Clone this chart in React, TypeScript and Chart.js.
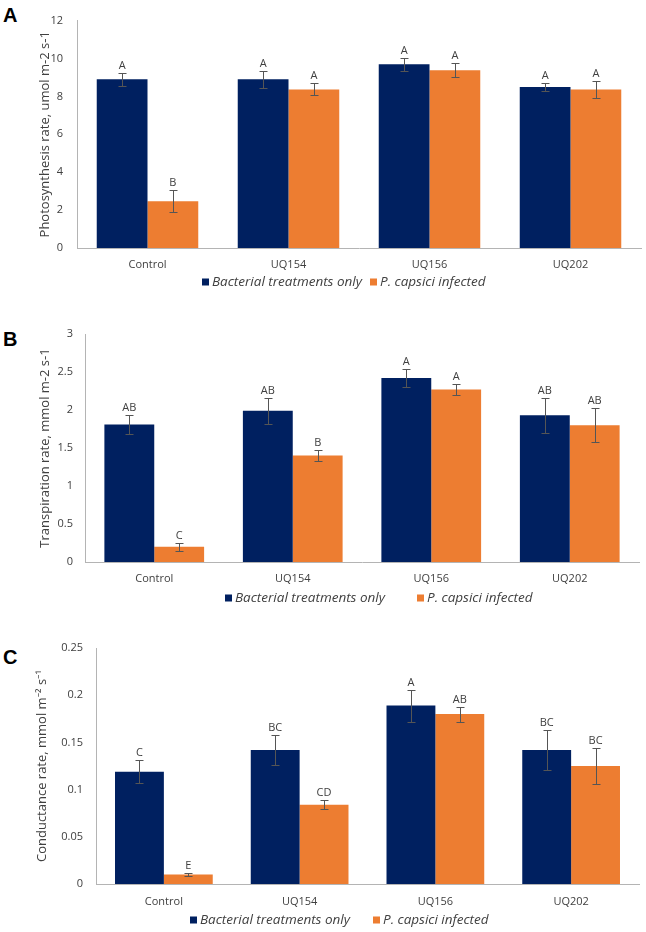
import React, { useEffect, useRef } from "react";
import { Chart, registerables } from "chart.js";
Chart.register(...registerables);

// ---------- data ----------
const categories = ["Control", "UQ154", "UQ156", "UQ202"];
const seriesNames = ["Bacterial treatments only", "P. capsici infected"];

// Panel A: photosynthesis
const photoBacterial = [8.9, 8.9, 9.7, 8.5];
const photoBacterialErr = [0.33, 0.45, 0.34, 0.22];
const photoInfected = [2.47, 8.37, 9.38, 8.37];
const photoInfectedErr = [0.58, 0.32, 0.36, 0.45];
const photoBacterialLetters = ["A", "A", "A", "A"];
const photoInfectedLetters = ["B", "A", "A", "A"];
const photoTicks = [0, 2, 4, 6, 8, 10, 12];

// Panel B: transpiration
const transBacterial = [1.81, 1.99, 2.42, 1.93];
const transBacterialErr = [0.13, 0.17, 0.12, 0.23];
const transInfected = [0.2, 1.4, 2.27, 1.8];
const transInfectedErr = [0.05, 0.07, 0.07, 0.22];
const transBacterialLetters = ["AB", "AB", "A", "AB"];
const transInfectedLetters = ["C", "B", "A", "AB"];
const transTicks = [0, 0.5, 1, 1.5, 2, 2.5, 3];

// Panel C: conductance
const condBacterial = [0.119, 0.142, 0.189, 0.142];
const condBacterialErr = [0.012, 0.016, 0.017, 0.021];
const condInfected = [0.01, 0.084, 0.18, 0.125];
const condInfectedErr = [0.002, 0.005, 0.008, 0.019];
const condBacterialLetters = ["C", "BC", "A", "BC"];
const condInfectedLetters = ["E", "CD", "AB", "BC"];
const condTicks = [0, 0.05, 0.1, 0.15, 0.2, 0.25];

// ---------- styles ----------
const FONT = "'Open Sans', 'Noto Sans', sans-serif";
const NAVY = "#002060";
const ORANGE = "#ED7D31";
const TEXT = "#404040";
const AXIS = "#b4b4b4";
const ERR = "#555555";
const W = 646;

type PanelProps = {
  letter: string;
  letterTop: number;
  top: number;
  height: number;
  chartLeft: number;
  chartRight: number;
  chartTop: number;
  chartBottom: number;
  tickPad: number;
  xLabelPad: number;
  titleX: number;
  title: string;
  ticks: number[];
  bacterial: number[];
  bacterialErr: number[];
  infected: number[];
  infectedErr: number[];
  bacterialLetters: string[];
  infectedLetters: string[];
  legendXs: number[];
  legendDy: number;
};

function Panel(p: PanelProps) {
  const ref = useRef<HTMLCanvasElement>(null);
  useEffect(() => {
    const canvas = ref.current!;
    const relTop = p.chartTop - p.top;
    const relBottom = p.chartBottom - p.top;
    const vals = [p.bacterial, p.infected];
    const errs = [p.bacterialErr, p.infectedErr];
    const letters = [p.bacterialLetters, p.infectedLetters];
    const colors = [NAVY, ORANGE];

    const extras = {
      id: "errLettersLegend",
      afterDatasetsDraw(chart: any) {
        const ctx = chart.ctx;
        const ys = chart.scales.y;
        ctx.save();
        for (let d = 0; d < 2; d++) {
          const meta = chart.getDatasetMeta(d);
          meta.data.forEach((el: any, i: number) => {
            const x = Math.round(el.x) + 0.5;
            const hi = Math.round(ys.getPixelForValue(vals[d][i] + errs[d][i])) + 0.5;
            const lo = Math.round(ys.getPixelForValue(vals[d][i] - errs[d][i])) + 0.5;
            ctx.strokeStyle = ERR;
            ctx.lineWidth = 1;
            ctx.beginPath();
            ctx.moveTo(x, hi);
            ctx.lineTo(x, lo);
            ctx.moveTo(x - 4, hi);
            ctx.lineTo(x + 4, hi);
            ctx.moveTo(x - 4, lo);
            ctx.lineTo(x + 4, lo);
            ctx.stroke();
            ctx.fillStyle = TEXT;
            ctx.font = `11px ${FONT}`;
            ctx.textAlign = "center";
            ctx.textBaseline = "middle";
            ctx.fillText(letters[d][i], el.x, hi - 7.5);
          });
        }
        ctx.restore();
      },
      afterDraw(chart: any) {
        const ctx = chart.ctx;
        const y = chart.chartArea.bottom + p.legendDy;
        ctx.save();
        for (let d = 0; d < 2; d++) {
          const x = p.legendXs[d];
          ctx.fillStyle = colors[d];
          ctx.fillRect(x, y - 3.5, 7, 7);
          ctx.fillStyle = TEXT;
          ctx.font = `italic 13.5px ${FONT}`;
          ctx.textAlign = "left";
          ctx.textBaseline = "middle";
          ctx.fillText(seriesNames[d], x + 10, y);
        }
        ctx.restore();
      },
    };

    const chart = new Chart(canvas, {
      type: "bar",
      data: {
        labels: categories,
        datasets: [
          { label: seriesNames[0], data: p.bacterial, backgroundColor: NAVY, borderWidth: 0 },
          { label: seriesNames[1], data: p.infected, backgroundColor: ORANGE, borderWidth: 0 },
        ],
      },
      options: {
        responsive: false,
        animation: false,
        devicePixelRatio: 1,
        layout: { padding: { left: 0, right: W - p.chartRight, top: relTop, bottom: 0 } },
        datasets: { bar: { categoryPercentage: 0.72, barPercentage: 1.0 } },
        plugins: { legend: { display: false }, tooltip: { enabled: false } },
        scales: {
          x: {
            grid: { display: false, drawTicks: false },
            border: { display: true, color: AXIS, width: 1 },
            ticks: { color: TEXT, font: { family: FONT, size: 11 }, padding: p.xLabelPad, maxRotation: 0 },
            afterFit(scale: any) {
              scale.height = p.height - relBottom;
            },
          },
          y: {
            min: p.ticks[0],
            max: p.ticks[p.ticks.length - 1],
            grid: { display: false, drawTicks: false },
            border: { display: true, color: AXIS, width: 1 },
            ticks: {
              color: TEXT,
              font: { family: FONT, size: 11 },
              padding: p.tickPad,
              callback: (v: any) => String(Math.round(Number(v) * 1000) / 1000),
            },
            afterBuildTicks(scale: any) {
              scale.ticks = p.ticks.map((v) => ({ value: v }));
            },
            title: {
              display: true,
              text: p.title,
              color: TEXT,
              font: { family: FONT, size: 13 },
              padding: { top: p.titleX - 7.8, bottom: 0 },
            },
            afterFit(scale: any) {
              scale.width = p.chartLeft;
            },
          },
        },
      },
      plugins: [extras],
    } as any);
    return () => chart.destroy();
  }, []);

  return (
    <>
      <div
        style={{
          position: "absolute",
          left: 3,
          top: p.letterTop,
          font: "bold 20px 'Liberation Sans', Arial, sans-serif",
          lineHeight: "20px",
          color: "#000",
        }}
      >
        {p.letter}
      </div>
      <canvas
        ref={ref}
        width={W}
        height={p.height}
        style={{ position: "absolute", left: 0, top: p.top, width: W, height: p.height }}
      />
    </>
  );
}

export default function App() {
  return (
    <div style={{ position: "absolute", left: 0, top: 0, width: W, height: 932, background: "#fff", overflow: "hidden" }}>
      <Panel
        letter="A"
        letterTop={5}
        top={0}
        height={300}
        chartLeft={77}
        chartRight={641}
        chartTop={15}
        chartBottom={248}
        tickPad={14}
        xLabelPad={10}
        titleX={45}
        title="Photosynthesis rate, umol m-2 s-1"
        ticks={photoTicks}
        bacterial={photoBacterial}
        bacterialErr={photoBacterialErr}
        infected={photoInfected}
        infectedErr={photoInfectedErr}
        bacterialLetters={photoBacterialLetters}
        infectedLetters={photoInfectedLetters}
        legendXs={[202, 370]}
        legendDy={34}
      />
      <Panel
        letter="B"
        letterTop={329}
        top={300}
        height={310}
        chartLeft={85}
        chartRight={639}
        chartTop={334}
        chartBottom={562}
        tickPad={12}
        xLabelPad={10}
        titleX={45}
        title="Transpiration rate, mmol m-2 s-1"
        ticks={transTicks}
        bacterial={transBacterial}
        bacterialErr={transBacterialErr}
        infected={transInfected}
        infectedErr={transInfectedErr}
        bacterialLetters={transBacterialLetters}
        infectedLetters={transInfectedLetters}
        legendXs={[225, 417]}
        legendDy={36}
      />
      <Panel
        letter="C"
        letterTop={647}
        top={610}
        height={322}
        chartLeft={96}
        chartRight={639}
        chartTop={648}
        chartBottom={884}
        tickPad={13}
        xLabelPad={11}
        titleX={42}
        title="Conductance rate, mmol m⁻² s⁻¹"
        ticks={condTicks}
        bacterial={condBacterial}
        bacterialErr={condBacterialErr}
        infected={condInfected}
        infectedErr={condInfectedErr}
        bacterialLetters={condBacterialLetters}
        infectedLetters={condInfectedLetters}
        legendXs={[190, 373]}
        legendDy={36}
      />
    </div>
  );
}
